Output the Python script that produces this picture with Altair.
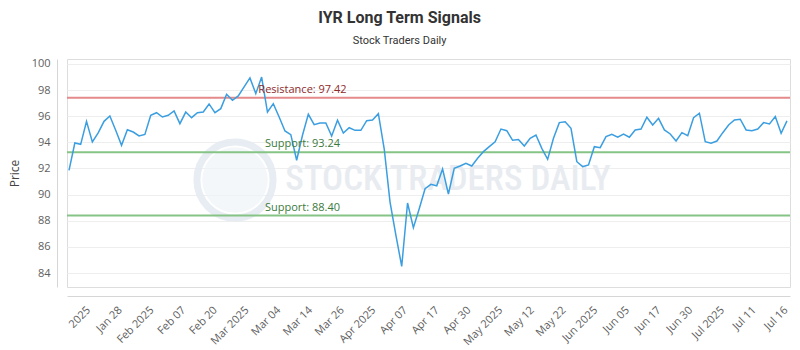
import json
import altair as alt
import pandas as pd

# ---------------- data ----------------
prices = [
    91.86, 93.95, 93.85, 95.61, 94.03, 94.72, 95.61, 96.02, 94.92, 93.77,
    94.97, 94.79, 94.49, 94.61, 96.07, 96.27, 95.94, 96.07, 96.40, 95.43,
    96.32, 95.89, 96.27, 96.32, 96.94, 96.27, 96.58, 97.68, 97.22, 97.55,
    98.24, 98.93, 97.73, 99.00, 96.32, 96.96, 95.94, 94.87, 94.59, 92.63,
    94.54, 96.15, 95.35, 95.48, 95.48, 94.49, 95.69, 94.72, 95.12, 94.92,
    94.92, 95.66, 95.71, 96.19, 93.51, 89.43, 86.90, 84.51, 89.36, 87.47,
    88.92, 90.45, 90.79, 90.68, 91.96, 90.05, 92.01, 92.19, 92.39, 92.19,
    92.78, 93.29, 93.67, 94.05, 95.02, 94.89, 94.16, 94.21, 93.72, 94.31,
    94.56, 93.54, 92.70, 94.31, 95.51, 95.58, 95.08, 92.52, 92.14, 92.27,
    93.67, 93.59, 94.44, 94.62, 94.39, 94.64, 94.39, 94.95, 95.02, 95.92,
    95.33, 95.84, 94.95, 94.64, 94.10, 94.74, 94.51, 95.89, 96.23, 94.05,
    93.93, 94.10, 94.74, 95.33, 95.71, 95.77, 94.95, 94.89, 95.02, 95.51,
    95.41, 95.97, 94.69, 95.64,
]

tick_labels = [
    "2025", "Jan 28", "Feb 2025", "Feb 07", "Feb 20", "Mar 2025", "Mar 04",
    "Mar 14", "Mar 26", "Apr 2025", "Apr 07", "Apr 17", "Apr 30", "May 2025",
    "May 12", "May 22", "Jun 2025", "Jun 05", "Jun 17", "Jun 30", "Jul 2025",
    "Jul 11", "Jul 16",
]

y_ticks = [84, 86, 88, 90, 92, 94, 96, 98, 100]

level_names = ["Resistance", "Support", "Support"]
level_values = [97.42, 93.24, 88.40]
level_kinds = ["resistance", "support", "support2"]

title_text = "IYR Long Term Signals"
subtitle_text = "Stock Traders Daily"
watermark_text = "STOCK TRADERS DAILY"

# ---------------- tables ----------------
df = pd.DataFrame({"idx": list(range(len(prices))), "price": prices})
levels = pd.DataFrame({
    "name": level_names,
    "level": level_values,
    "kind": level_kinds,
    "label": [f"{n}: {v:.2f}" for n, v in zip(level_names, level_values)],
    "pos": [40] * len(level_values),
})

tick_start, tick_step = 2.6, 5.43
tick_values = [round(tick_start + i * tick_step, 3) for i in range(len(tick_labels))]
label_expr = (
    json.dumps(tick_labels)
    + f"[round((datum.value - {tick_start}) / {tick_step})]"
)

W, H = 723, 228
x_scale = alt.Scale(domain=[-0.343, 123.52], nice=False, zero=False)
y_scale = alt.Scale(domain=[82.93, 100.38], nice=False, zero=False)

x_axis = alt.Axis(
    values=tick_values, labelExpr=label_expr, title=None, grid=False,
    ticks=False, labelAngle=-45, labelAlign="right", labelBaseline="top",
    labelPadding=8, offset=9, domainColor="#d6d6d6", labelColor="#606060",
    labelFont="Open Sans", labelFontSize=11, labelOverlap=False,
    labelFlush=False, labelBound=False,
)
y_axis = alt.Axis(
    values=y_ticks, title="Price", grid=True,
    gridColor="#eeeeee", ticks=False, offset=10, domainColor="#d6d6d6",
    labelColor="#606060", labelFont="Open Sans", labelFontSize=11,
    labelPadding=7, titleFont="Open Sans", titleFontSize=12,
    titleFontWeight="normal", titleColor="#444", titlePadding=10,
    labelOverlap=False, labelFlush=False, labelBound=False,
)

one = pd.DataFrame({"k": [0]})

wm_circle = alt.Chart(one).mark_point(
    shape="circle", filled=False, size=5800, strokeWidth=7,
    color="#e4ebf2", opacity=0.85,
).encode(x=alt.value(168), y=alt.value(121))

wm_fill = alt.Chart(one).mark_point(
    shape="circle", filled=True, size=4300, color="#f0f4f8", opacity=0.7,
).encode(x=alt.value(168), y=alt.value(121))

wm_text = alt.Chart(one).mark_text(
    text=watermark_text, font="Roboto Condensed, Roboto", fontSize=35,
    fontWeight=500, color="#e8ecf1", align="center", baseline="middle",
).encode(x=alt.value(448 - 67), y=alt.value(120))

line = alt.Chart(df).mark_line(color="#3a9ee0", strokeWidth=1.5).encode(
    x=alt.X("idx:Q", scale=x_scale, axis=x_axis),
    y=alt.Y("price:Q", scale=y_scale, axis=y_axis),
)

color_scale = alt.Scale(
    domain=["resistance", "support", "support2"],
    range=["#e58a8a", "#86c486", "#86c486"],
)
text_scale = alt.Scale(
    domain=["resistance", "support", "support2"],
    range=["#8e2a2a", "#3c7a3c", "#3c7a3c"],
)

rules = alt.Chart(levels).mark_rule(strokeWidth=2).encode(
    y=alt.Y("level:Q", scale=y_scale, axis=y_axis),
    color=alt.Color("kind:N", scale=color_scale, legend=None),
)

level_text = alt.Chart(levels).mark_text(
    font="Open Sans", fontSize=11, align="center", baseline="bottom", dy=-3,
).encode(
    x=alt.X("pos:Q", scale=x_scale, axis=x_axis),
    y=alt.Y("level:Q", scale=y_scale, axis=y_axis),
    text="label:N",
    color=alt.Color("kind:N", scale=text_scale, legend=None),
)

chart = alt.layer(
    wm_fill, wm_circle, wm_text, rules, line, level_text
).resolve_scale(color="independent").properties(
    width=W,
    height=H,
    autosize=alt.AutoSizeParams(type="none"),
    padding={"left": 67, "top": 59, "right": 10, "bottom": 63},
    title=alt.TitleParams(
        text=title_text, subtitle=subtitle_text, anchor="middle",
        frame="bounds", font="Roboto", fontSize=16, fontWeight="bold",
        color="#333", subtitleFont="Roboto", subtitleFontSize=11,
        subtitleColor="#333", subtitlePadding=9, offset=12,
    ),
).configure_view(stroke="#888", strokeWidth=1).configure(background="white")

chart.save("out.html", embed_options={"renderer": "svg", "actions": False})
